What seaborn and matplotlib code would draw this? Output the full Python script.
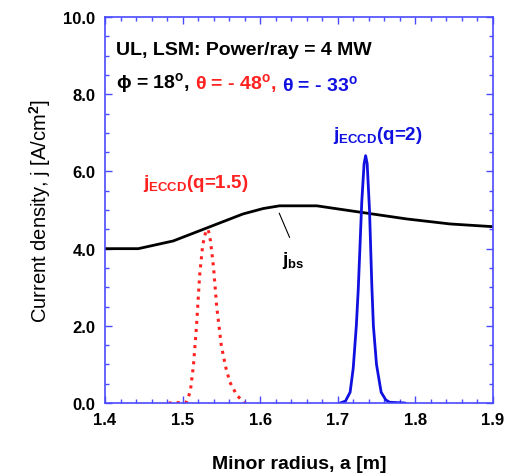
import numpy as np
import pandas as pd
import matplotlib
matplotlib.use("Agg")
import matplotlib.pyplot as plt
from matplotlib.ticker import MultipleLocator
import seaborn as sns

# data
bs_a = [1.40, 1.443, 1.488, 1.533, 1.578, 1.604, 1.625, 1.673, 1.707, 1.741, 1.789, 1.845, 1.90]
bs_j = [4.00, 4.00, 4.20, 4.55, 4.90, 5.04, 5.11, 5.11, 5.01, 4.91, 4.77, 4.64, 4.57]

q15_a = [1.482, 1.505, 1.510, 1.514, 1.518, 1.522, 1.526, 1.530, 1.533, 1.536, 1.540,
         1.544, 1.550, 1.556, 1.561, 1.570, 1.580]
q15_j = [0.0, 0.02, 0.3, 0.97, 2.0, 3.3, 4.1, 4.45, 4.5, 4.2, 3.5, 2.5, 1.48, 0.9, 0.54, 0.2, 0.0]

q2_a = [1.703, 1.710, 1.716, 1.720, 1.724, 1.7265, 1.731, 1.734, 1.736, 1.738, 1.741,
        1.744, 1.746, 1.750, 1.756, 1.762, 1.767, 1.787]
q2_j = [0.0, 0.05, 0.28, 0.9, 2.0, 2.95, 5.2, 6.2, 6.41, 6.2, 5.0, 3.04, 2.0, 1.0, 0.28,
        0.08, 0.02, 0.0]

sns.set_style("ticks")
plt.rcParams['font.family'] = ['Liberation Sans', 'DejaVu Sans']
plt.rcParams['font.weight'] = 'bold'
plt.rcParams['text.color'] = 'black'
plt.rcParams['axes.labelcolor'] = 'black'
plt.rcParams['mathtext.fontset'] = 'custom'
plt.rcParams['mathtext.rm'] = 'Liberation Sans:bold'
plt.rcParams['mathtext.it'] = 'Liberation Sans:bold'
plt.rcParams['mathtext.bf'] = 'Liberation Sans:bold'

spine_col = '#4a4aff'
red = '#ff2020'
blue = '#1010e0'

fig = plt.figure(figsize=(5.06, 4.77), dpi=100)
ax = fig.add_axes([0.2075, 0.153, 0.7665, 0.809])

df_bs = pd.DataFrame({'a': bs_a, 'j': bs_j})
df_15 = pd.DataFrame({'a': q15_a, 'j': q15_j})
df_2 = pd.DataFrame({'a': q2_a, 'j': q2_j})

sns.lineplot(data=df_bs, x='a', y='j', ax=ax, color='black', lw=2)
sns.lineplot(data=df_15, x='a', y='j', ax=ax, color=red, lw=2.2, linestyle=':')
sns.lineplot(data=df_2, x='a', y='j', ax=ax, color=blue, lw=2)

ax.set_xlim(1.4, 1.9)
ax.set_ylim(0, 10)
ax.xaxis.set_major_locator(MultipleLocator(0.1))
ax.xaxis.set_minor_locator(MultipleLocator(0.02))
ax.yaxis.set_major_locator(MultipleLocator(2.0))
ax.yaxis.set_minor_locator(MultipleLocator(0.5))
ax.xaxis.set_major_formatter(plt.FormatStrFormatter('%.1f'))
ax.yaxis.set_major_formatter(plt.FormatStrFormatter('%.1f'))
ax.tick_params(which='both', direction='in', top=True, right=True, color=spine_col,
               labelsize=12, labelcolor='black')
ax.tick_params(which='major', length=5, width=1)
ax.tick_params(which='minor', length=3, width=1)
ax.tick_params(axis='x', which='major', pad=6.5)
ax.tick_params(axis='y', which='major', pad=7)
for sp in ax.spines.values():
    sp.set_color(spine_col)
    sp.set_linewidth(1.2)

ax.set_xlabel('Minor radius, a [m]', fontsize=14, fontweight='bold', labelpad=20)
ax.set_ylabel('Current density, j [A/cm$^2$]', fontsize=14.5, fontweight='normal', labelpad=7)

# header text
ax.text(0.028, 0.905, 'UL, LSM: Power/ray = 4 MW', transform=ax.transAxes,
        fontsize=14, fontweight='bold', va='baseline')
t1 = ax.text(0.028, 0.818, '\u03d5 = 18$^{\\rm o}$,', transform=ax.transAxes,
             fontsize=14, fontweight='bold', va='baseline')
t2 = ax.annotate('\u03b8 = - 48$^{\\rm o}$,', xy=(1, 0), xycoords=t1, xytext=(4, 0),
                 textcoords='offset points', va='bottom',
                 fontsize=14, fontweight='bold', color=red)
t3 = ax.annotate('\u03b8 = - 33$^{\\rm o}$', xy=(1, 0), xycoords=t2, xytext=(4, 0),
                 textcoords='offset points', va='bottom',
                 fontsize=14, fontweight='bold', color=blue)

# curve labels
ax.text(1.517, 5.6, 'j$_{\\rm ECCD}$(q=1.5)', color=red, fontsize=13.5,
        fontweight='bold', ha='center', va='baseline')
ax.text(1.752, 6.85, 'j$_{\\rm ECCD}$(q=2)', color=blue, fontsize=13.5,
        fontweight='bold', ha='center', va='baseline')
ax.text(1.643, 3.6, 'j$_{\\rm bs}$', color='black', fontsize=13.5,
        fontweight='bold', ha='center', va='baseline')
ax.plot([1.6246, 1.638], [4.92, 4.29], color='black', lw=0.8)

fig.savefig('out.png', dpi=100)
